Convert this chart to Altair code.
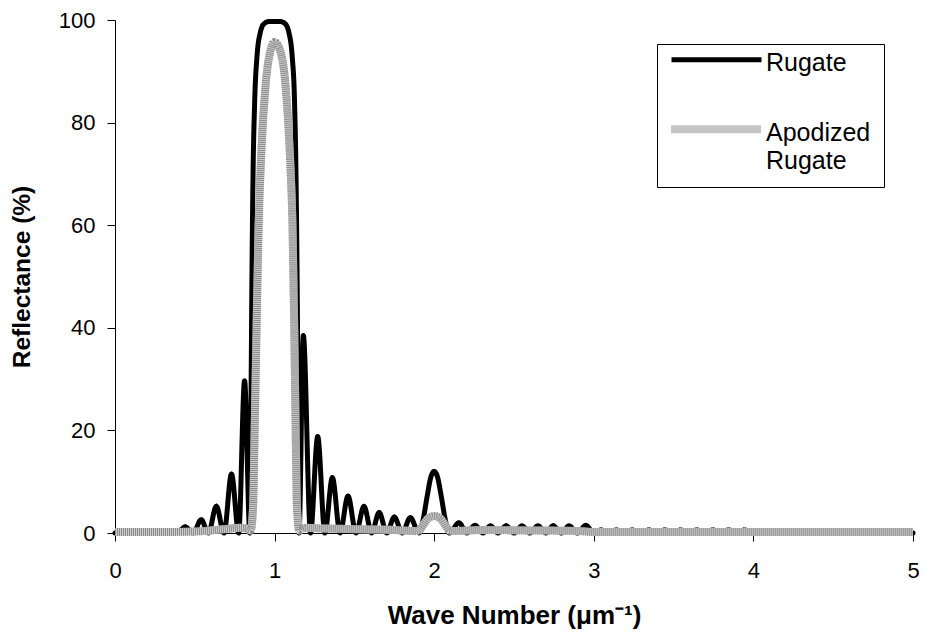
import altair as alt
import pandas as pd

# ---- Rugate (black) ----
rug_x = [0.0, 0.20, 0.255, 0.30, 0.345, 0.39, 0.44, 0.49, 0.54, 0.585, 0.635, 0.683, 0.73, 0.775, 0.812,
         0.845, 0.852, 0.858, 0.865, 0.875, 0.89, 0.91, 0.935, 0.965, 1.0, 1.035, 1.065, 1.09, 1.11, 1.125,
         1.134, 1.141, 1.147, 1.153,
         1.18, 1.225, 1.27, 1.315, 1.362, 1.41, 1.46, 1.51, 1.56, 1.608, 1.655, 1.703, 1.75, 1.80, 1.85,
         1.905, 1.93, 1.955, 1.98, 2.0, 2.02, 2.045, 2.07, 2.095,
         2.155, 2.205, 2.255, 2.305, 2.352, 2.40, 2.45, 2.50, 2.55, 2.60, 2.65, 2.70, 2.745, 2.797, 2.845,
         2.897, 2.95, 3.0,
         3.045, 3.09, 3.14, 3.19, 3.24, 3.29, 3.345, 3.395, 3.445, 3.495, 3.545, 3.595, 3.645, 3.695, 3.745,
         3.795, 3.845, 3.895, 3.945, 3.995, 4.5, 5.0]
rug_y = [0.0, 0.0, 0.25, 0.0, 0.5, 0.0, 1.2, 0.0, 2.6, 0.0, 5.2, 0.0, 11.5, 0.0, 29.7,
         0.0, 25, 50, 70, 84, 93, 97.5, 99.3, 99.7, 99.7, 99.7, 99.3, 97.5, 93, 84,
         70, 50, 25, 0.0,
         38.5, 0.0, 18.8, 0.0, 10.8, 0.0, 7.2, 0.0, 5.2, 0.0, 4.0, 0.0, 3.1, 0.0, 3.0,
         0.0, 2.5, 7.0, 11.0, 12.0, 11.0, 7.0, 2.5, 0.0,
         2.0, 0.0, 1.5, 0.0, 1.4, 0.0, 1.4, 0.0, 1.4, 0.0, 1.4, 0.0, 1.4, 0.0, 1.4,
         0.0, 1.5, 0.0,
         0.6, 0.0, 0.6, 0.0, 0.6, 0.0, 0.6, 0.0, 0.6, 0.0, 0.6, 0.0, 0.6, 0.0, 0.6,
         0.0, 0.6, 0.0, 0.6, 0.0, 0.0, 0.0]

# ---- Apodized Rugate (grey) ----
apo_x = [0.0, 0.30, 0.50, 0.60, 0.70, 0.78, 0.82, 0.85, 0.865, 0.875, 0.887, 0.90, 0.915, 0.94, 0.97,
         1.0, 1.04, 1.072, 1.097, 1.112, 1.123, 1.132, 1.14, 1.155, 1.17, 1.20, 1.30, 1.45, 1.60, 1.75,
         1.88, 1.905, 1.93, 1.96, 2.0, 2.04, 2.07, 2.095, 2.12, 2.30, 2.60, 2.90, 3.0, 3.5, 4.0, 5.0]
apo_y = [0.2, 0.2, 0.3, 0.5, 0.8, 1.0, 0.9, 0.5, 5, 20, 40, 60, 73, 86, 93.5,
         95.7, 93.5, 86, 73, 60, 40, 20, 5, 0.5, 0.8, 1.0, 0.9, 0.8, 0.7, 0.6,
         0.4, 0.5, 1.5, 2.8, 3.3, 2.8, 1.5, 0.5, 0.4, 0.6, 0.5, 0.4, 0.2, 0.2, 0.2, 0.2]

series_names = ["Rugate", "Apodized Rugate"]
x_ticks = [0, 1, 2, 3, 4, 5]
y_ticks = [0, 20, 40, 60, 80, 100]

df = pd.concat([
    pd.DataFrame({"x": rug_x, "y": rug_y, "series": series_names[0]}),
    pd.DataFrame({"x": apo_x, "y": apo_y, "series": series_names[1]}),
], ignore_index=True)

FONT = "Liberation Sans"

x_enc = alt.X("x:Q", scale=alt.Scale(domain=[0, 5], nice=False),
              axis=alt.Axis(values=x_ticks, format="d", title="Wave Number (μm⁻¹)",
                            labelFlush=False,
                            labelPadding=19, titlePadding=21, titleFontSize=26))
y_enc = alt.Y("y:Q", scale=alt.Scale(domain=[0, 100], nice=False),
              axis=alt.Axis(values=y_ticks, title="Reflectance (%)",
                            labelPadding=12, titlePadding=24, titleFontSize=24.5))

color_enc = alt.Color("series:N",
                      scale=alt.Scale(domain=series_names, range=["#000000", "#8a8a8a"]),
                      legend=alt.Legend(title=None, orient="none", legendX=542, legendY=24,
                                        symbolType="M-4,-1H4", symbolSize=506.25,
                                        symbolOffset=31, labelOffset=34,
                                        labelBaseline="alphabetic",
                                        labelExpr="datum.label == 'Apodized Rugate' ? ['Apodized', 'Rugate'] : datum.label"))
width_enc = alt.StrokeWidth("series:N",
                            scale=alt.Scale(domain=series_names, range=[5, 8]),
                            legend=None)
dash_enc = alt.StrokeDash("series:N",
                          scale=alt.Scale(domain=series_names, range=[[1, 0], [1, 1]]),
                          legend=None)

base = alt.Chart(df)

black = base.transform_filter(alt.datum.series == "Rugate").mark_line(
    interpolate="monotone", strokeCap="round", strokeJoin="round"
).encode(x=x_enc, y=y_enc, color=color_enc, strokeWidth=width_enc, strokeDash=dash_enc, order="x:Q")

grey_under = base.transform_filter(alt.datum.series == "Apodized Rugate").mark_line(
    interpolate="monotone", color="#cdcdcd", strokeWidth=8
).encode(x="x:Q", y="y:Q", order="x:Q")

grey = base.transform_filter(alt.datum.series == "Apodized Rugate").mark_line(
    interpolate="monotone"
).encode(x=x_enc, y=y_enc, color=color_enc, strokeWidth=width_enc, strokeDash=dash_enc, order="x:Q")

chart = alt.layer(black, grey_under, grey).properties(
    width=798, height=513,
    autosize=alt.AutoSizeParams(type="none"),
    padding={"left": 107, "top": 12, "right": 6, "bottom": 97},
).configure(
    style={"guide-label": {"lineHeight": 28}}
).configure_view(stroke=None).configure_axis(
    grid=False, domainColor="#000000", tickColor="#000000", tickSize=8,
    labelFont=FONT, labelFontSize=22, labelColor="#000000",
    titleFont=FONT, titleFontWeight="bold", titleColor="#000000",
).configure_legend(
    labelFont=FONT, labelFontSize=25, labelColor="#000000",
    strokeColor="#000000", fillColor="#ffffff", padding=13, rowPadding=37,
)

chart.save("out.html", embed_options={"renderer": "svg", "actions": False})
